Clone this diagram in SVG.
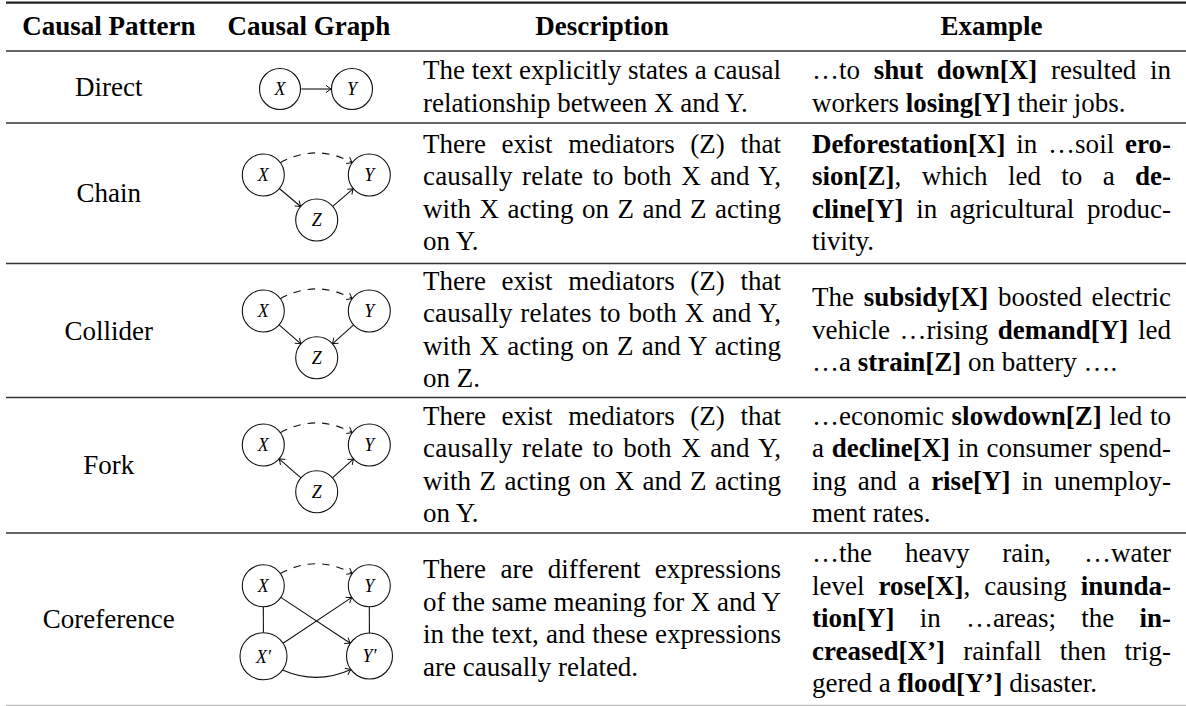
<svg xmlns="http://www.w3.org/2000/svg" width="1186" height="706" viewBox="0 0 1186 706">
<style>
.t{font-family:"Liberation Serif","Times New Roman",serif;font-size:27px;fill:#000}
.b{font-weight:bold}
.h{font-weight:bold;text-anchor:middle}
.c{text-anchor:middle}
.n{font-family:"Liberation Serif","Times New Roman",serif;font-style:italic;font-size:18px;text-anchor:middle;fill:#000}
.node circle{fill:#fff;stroke:#111;stroke-width:1.1}
.e{fill:none;stroke:#111;stroke-width:1.1}
.a{marker-end:url(#arr)}
.d{stroke-dasharray:7.5 7}
.rule{stroke:#333;stroke-width:1.4}
</style>
<defs>
<marker id="arr" markerUnits="userSpaceOnUse" markerWidth="12" markerHeight="12" viewBox="-7 -6 8 12" refX="0" refY="0" orient="auto">
<path d="M-5,-3.6 Q-1.5,-0.8 0,0 Q-1.5,0.8 -5,3.6" fill="none" stroke="#111" stroke-width="1"/>
</marker>
</defs>
<rect width="1186" height="706" fill="#fff"/>
<g id="rules">
<line x1="6" y1="2.7" x2="1186" y2="2.7" stroke="#222" stroke-width="2.2"/>
<line class="rule" x1="6" y1="51" x2="1186" y2="51"/>
<line class="rule" x1="6" y1="123" x2="1186" y2="123"/>
<line class="rule" x1="6" y1="263.5" x2="1186" y2="263.5"/>
<line class="rule" x1="6" y1="397.5" x2="1186" y2="397.5"/>
<line class="rule" x1="6" y1="533" x2="1186" y2="533"/>
<line x1="6" y1="705.3" x2="1186" y2="705.3" stroke="#bbb" stroke-width="1.2"/>
</g>
<g id="header">
<text class="t h" x="108.8" y="35">Causal Pattern</text>
<text class="t h" x="309" y="35">Causal Graph</text>
<text class="t h" x="602" y="35">Description</text>
<text class="t h" x="991.5" y="35">Example</text>
</g>
<g id="labels">
<text class="t c" x="108.8" y="96">Direct</text>
<text class="t c" x="108.8" y="202">Chain</text>
<text class="t c" x="108.8" y="339.5">Collider</text>
<text class="t c" x="108.8" y="474">Fork</text>
<text class="t c" x="108.8" y="628">Coreference</text>
</g>
<g id="descriptions">
<text class="t" x="423" y="79" textLength="358" lengthAdjust="spacing">The text explicitly states a causal</text>
<text class="t" x="423" y="111.5">relationship between X and Y.</text>
<text class="t" x="423" y="152.5" word-spacing="8.9" textLength="358" lengthAdjust="spacing">There exist mediators (Z) that</text>
<text class="t" x="423" y="185" word-spacing="2.5" textLength="358" lengthAdjust="spacing">causally relate to both X and Y,</text>
<text class="t" x="423" y="217.5" word-spacing="1.7" textLength="358" lengthAdjust="spacing">with X acting on Z and Z acting</text>
<text class="t" x="423" y="250">on Y.</text>
<text class="t" x="423" y="289.75" word-spacing="8.9" textLength="358" lengthAdjust="spacing">There exist mediators (Z) that</text>
<text class="t" x="423" y="322.25" word-spacing="0.8" textLength="358" lengthAdjust="spacing">causally relates to both X and Y,</text>
<text class="t" x="423" y="354.75" word-spacing="1.3" textLength="358" lengthAdjust="spacing">with X acting on Z and Y acting</text>
<text class="t" x="423" y="387.25">on Z.</text>
<text class="t" x="423" y="424.5" word-spacing="8.9" textLength="358" lengthAdjust="spacing">There exist mediators (Z) that</text>
<text class="t" x="423" y="457" word-spacing="2.5" textLength="358" lengthAdjust="spacing">causally relate to both X and Y,</text>
<text class="t" x="423" y="489.5" word-spacing="1.7" textLength="358" lengthAdjust="spacing">with Z acting on X and Z acting</text>
<text class="t" x="423" y="522">on Y.</text>
<text class="t" x="423" y="578.25" word-spacing="7.6" textLength="358" lengthAdjust="spacing">There are different expressions</text>
<text class="t" x="423" y="610.75" textLength="358" lengthAdjust="spacing">of the same meaning for X and Y</text>
<text class="t" x="423" y="643.25" word-spacing="0.5" textLength="358" lengthAdjust="spacing">in the text, and these expressions</text>
<text class="t" x="423" y="675.75">are causally related.</text>
</g>
<g id="examples">
<text class="t" x="812" y="79" word-spacing="6.9" textLength="359" lengthAdjust="spacing">…to <tspan class="b">shut down[X]</tspan> resulted in</text>
<text class="t" x="812" y="111.5">workers <tspan class="b">losing[Y]</tspan> their jobs.</text>
<text class="t" x="812" y="152.5" word-spacing="3.9" textLength="359" lengthAdjust="spacing"><tspan class="b">Deforestation[X]</tspan> in …soil <tspan class="b">ero-</tspan></text>
<text class="t" x="812" y="185" word-spacing="13.6" textLength="359" lengthAdjust="spacing"><tspan class="b">sion[Z]</tspan>, which led to a <tspan class="b">de-</tspan></text>
<text class="t" x="812" y="217.5" word-spacing="5.9" textLength="359" lengthAdjust="spacing"><tspan class="b">cline[Y]</tspan> in agricultural produc-</text>
<text class="t" x="812" y="250">tivity.</text>
<text class="t" x="812" y="306" word-spacing="2.9" textLength="359" lengthAdjust="spacing">The <tspan class="b">subsidy[X]</tspan> boosted electric</text>
<text class="t" x="812" y="338.5" word-spacing="2.9" textLength="359" lengthAdjust="spacing">vehicle …rising <tspan class="b">demand[Y]</tspan> led</text>
<text class="t" x="812" y="371">…a <tspan class="b">strain[Z]</tspan> on battery ….</text>
<text class="t" x="812" y="424.5" word-spacing="0.9" textLength="359" lengthAdjust="spacing">…economic <tspan class="b">slowdown[Z]</tspan> led to</text>
<text class="t" x="812" y="457" word-spacing="0.9" textLength="359" lengthAdjust="spacing">a <tspan class="b">decline[X]</tspan> in consumer spend-</text>
<text class="t" x="812" y="489.5" word-spacing="4.5" textLength="359" lengthAdjust="spacing">ing and a <tspan class="b">rise[Y]</tspan> in unemploy-</text>
<text class="t" x="812" y="522">ment rates.</text>
<text class="t" x="812" y="562" word-spacing="26.2" textLength="359" lengthAdjust="spacing">…the heavy rain, …water</text>
<text class="t" x="812" y="594.5" word-spacing="7.2" textLength="359" lengthAdjust="spacing">level <tspan class="b">rose[X]</tspan>, causing <tspan class="b">inunda-</tspan></text>
<text class="t" x="812" y="627" word-spacing="18.5" textLength="359" lengthAdjust="spacing"><tspan class="b">tion[Y]</tspan> in …areas; the <tspan class="b">in-</tspan></text>
<text class="t" x="812" y="659.5" word-spacing="11.5" textLength="359" lengthAdjust="spacing"><tspan class="b">creased[X’]</tspan> rainfall then trig-</text>
<text class="t" x="812" y="692">gered a <tspan class="b">flood[Y’]</tspan> disaster.</text>
</g>
<g id="connectors">
<line class="e a" x1="301.3" y1="89" x2="331" y2="89"/>
<line class="e a" x1="279.3" y1="188.5" x2="300.7" y2="206.5"/>
<line class="e a" x1="332.7" y1="206.3" x2="353.3" y2="188.7"/>
<path class="e a d" d="M280.3,162.7 Q316.3,143 352.3,162.7"/>
<line class="e a" x1="279.1" y1="324.8" x2="300.9" y2="343.9"/>
<line class="e a" x1="353.6" y1="324.9" x2="332.4" y2="343.8"/>
<path class="e a d" d="M280.3,298.7 Q316.3,279 352.3,298.7"/>
<line class="e a" x1="300.9" y1="477.9" x2="279.1" y2="458.8"/>
<line class="e a" x1="332.4" y1="477.8" x2="353.6" y2="458.9"/>
<path class="e a d" d="M280.3,432.7 Q316.3,413 352.3,432.7"/>
<line class="e" x1="263.3" y1="606.8" x2="263.4" y2="632.7"/>
<line class="e" x1="369.3" y1="606.8" x2="369.4" y2="633"/>
<line class="e a" x1="280.8" y1="597.4" x2="350.3" y2="643.3"/>
<line class="e a" x1="283.1" y1="643.2" x2="351.8" y2="597.4"/>
<path class="e a" d="M282.5,670 Q316.7,685 350.9,669.5"/>
<path class="e a d" d="M280.3,573.5 Q316.3,554 352.3,573.5"/>
</g>
<g id="direct-X" class="node"><circle cx="280" cy="89" r="20.5"/><text class="n" x="280" y="95.3">X</text></g>
<g id="direct-Y" class="node"><circle cx="352" cy="89" r="20.5"/><text class="n" x="352" y="95.3">Y</text></g>
<g id="chain-X" class="node"><circle cx="263.3" cy="175" r="21"/><text class="n" x="263.3" y="181.3">X</text></g>
<g id="chain-Y" class="node"><circle cx="369.3" cy="175" r="21"/><text class="n" x="369.3" y="181.3">Y</text></g>
<g id="chain-Z" class="node"><circle cx="316.7" cy="220" r="21"/><text class="n" x="316.7" y="226.3">Z</text></g>
<g id="collider-X" class="node"><circle cx="263.3" cy="311" r="21"/><text class="n" x="263.3" y="317.3">X</text></g>
<g id="collider-Y" class="node"><circle cx="369.3" cy="311" r="21"/><text class="n" x="369.3" y="317.3">Y</text></g>
<g id="collider-Z" class="node"><circle cx="316.7" cy="357.7" r="21"/><text class="n" x="316.7" y="364">Z</text></g>
<g id="fork-X" class="node"><circle cx="263.3" cy="445" r="21"/><text class="n" x="263.3" y="451.3">X</text></g>
<g id="fork-Y" class="node"><circle cx="369.3" cy="445" r="21"/><text class="n" x="369.3" y="451.3">Y</text></g>
<g id="fork-Z" class="node"><circle cx="316.7" cy="491.7" r="21"/><text class="n" x="316.7" y="498">Z</text></g>
<g id="coref-X" class="node"><circle cx="263.3" cy="585.8" r="21"/><text class="n" x="263.3" y="592.1">X</text></g>
<g id="coref-Y" class="node"><circle cx="369.3" cy="585.8" r="21"/><text class="n" x="369.3" y="592.1">Y</text></g>
<g id="coref-Xp" class="node"><circle cx="263.5" cy="656.2" r="23.5"/><text class="n" x="263.5" y="662.5">X′</text></g>
<g id="coref-Yp" class="node"><circle cx="369.5" cy="656" r="23"/><text class="n" x="369.5" y="662.3">Y′</text></g>
</svg>
